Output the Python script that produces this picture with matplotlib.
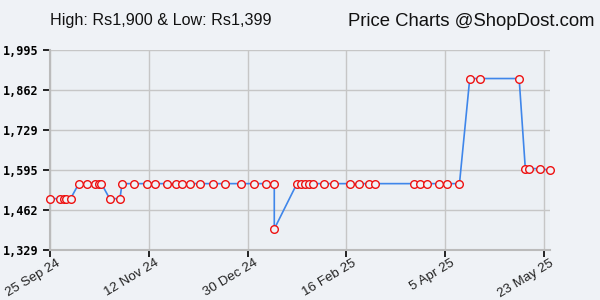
import matplotlib
matplotlib.use("Agg")
import matplotlib.pyplot as plt
import matplotlib.transforms as mtransforms
import datetime as dt

dates = ["2024-09-25", "2024-09-30", "2024-10-02", "2024-10-03", "2024-10-05",
         "2024-10-09", "2024-10-13", "2024-10-17", "2024-10-19", "2024-10-20",
         "2024-10-24", "2024-10-29", "2024-10-30", "2024-11-05", "2024-11-11",
         "2024-11-15", "2024-11-21", "2024-11-25", "2024-11-28", "2024-12-02",
         "2024-12-07", "2024-12-13", "2024-12-19", "2024-12-27", "2025-01-02",
         "2025-01-08", "2025-01-12", "2025-01-12", "2025-01-23", "2025-01-25",
         "2025-01-27", "2025-01-29", "2025-01-31", "2025-02-05", "2025-02-10",
         "2025-02-18", "2025-02-22", "2025-02-27", "2025-03-02", "2025-03-21",
         "2025-03-24", "2025-03-27", "2025-04-02", "2025-04-06", "2025-04-12",
         "2025-04-17", "2025-04-22", "2025-05-11", "2025-05-14", "2025-05-16",
         "2025-05-21", "2025-05-26"]
prices = [1500, 1500, 1500, 1500, 1500,
          1550, 1550, 1550, 1550, 1550,
          1500, 1500, 1550, 1550, 1550,
          1550, 1550, 1550, 1550, 1550,
          1550, 1550, 1550, 1550, 1550,
          1550, 1550, 1399, 1550, 1550,
          1550, 1550, 1550, 1550, 1550,
          1550, 1550, 1550, 1550, 1550,
          1550, 1550, 1550, 1550, 1550,
          1900, 1900, 1900, 1600, 1600,
          1600, 1595]
x_tick_labels = ["25 Sep 24", "12 Nov 24", "30 Dec 24", "16 Feb 25", "5 Apr 25", "23 May 25"]
y_ticks = [1329, 1462, 1595, 1729, 1862, 1995]
title_left = "High: Rs1,900 & Low: Rs1,399"
title_right = "Price Charts @ShopDost.com"

x = [dt.datetime.strptime(d, "%Y-%m-%d") for d in dates]
tick_dates = [dt.datetime.strptime(s, "%d %b %y") for s in x_tick_labels]

bg = "#eff2f6"
fig = plt.figure(figsize=(6, 3), dpi=100, facecolor=bg)
ax = fig.add_axes([50/600, 50/300, 500/600, 200/300], facecolor="#ecf0f4")

ax.plot(x, prices, color="#3f86ea", lw=1.2, zorder=3, clip_on=False)
ax.plot(x, prices, ls="none", marker="o", ms=5.5, mfc=bg, mec="#ee1111",
        mew=1.0, zorder=4, clip_on=False)

ax.set_xlim(x[0], x[-1])
ax.set_ylim(1329, 1995)
ax.set_yticks(y_ticks)
ax.set_yticklabels([f"{v:,}" for v in y_ticks], family="DejaVu Sans Mono",
                   fontweight="bold", fontsize=8.5)
ax.set_xticks(tick_dates)
ax.set_xticklabels([""] * len(tick_dates))

base = mtransforms.blended_transform_factory(ax.transData, ax.transAxes)
offset = mtransforms.ScaledTranslation(6/100, -7/100, fig.dpi_scale_trans)
for d, lab in zip(tick_dates, x_tick_labels):
    ax.text(d, 0, lab, transform=base + offset, rotation=31, ha="right", va="top",
            rotation_mode="anchor", family="Liberation Sans", fontsize=9.6,
            color="#222222", clip_on=False)

ax.grid(True, color="#c6c6c6", lw=1)
ax.set_axisbelow(True)
for s in ["top", "right"]:
    ax.spines[s].set_visible(False)
for s in ["left", "bottom"]:
    ax.spines[s].set_color("#bbbbbb")
    ax.spines[s].set_linewidth(1.5)
ax.tick_params(axis="both", length=5, width=1.2, color="black", pad=3)

fig.text(50/600, 1 - 21/300, title_left, family="Liberation Sans", fontsize=11.6,
         va="center", ha="left", color="#111111")
fig.text(595/600, 1 - 21/300, title_right, family="Liberation Sans", fontsize=13.3,
         va="center", ha="right", color="#111111")

fig.savefig("out.png", dpi=100, facecolor=bg)
